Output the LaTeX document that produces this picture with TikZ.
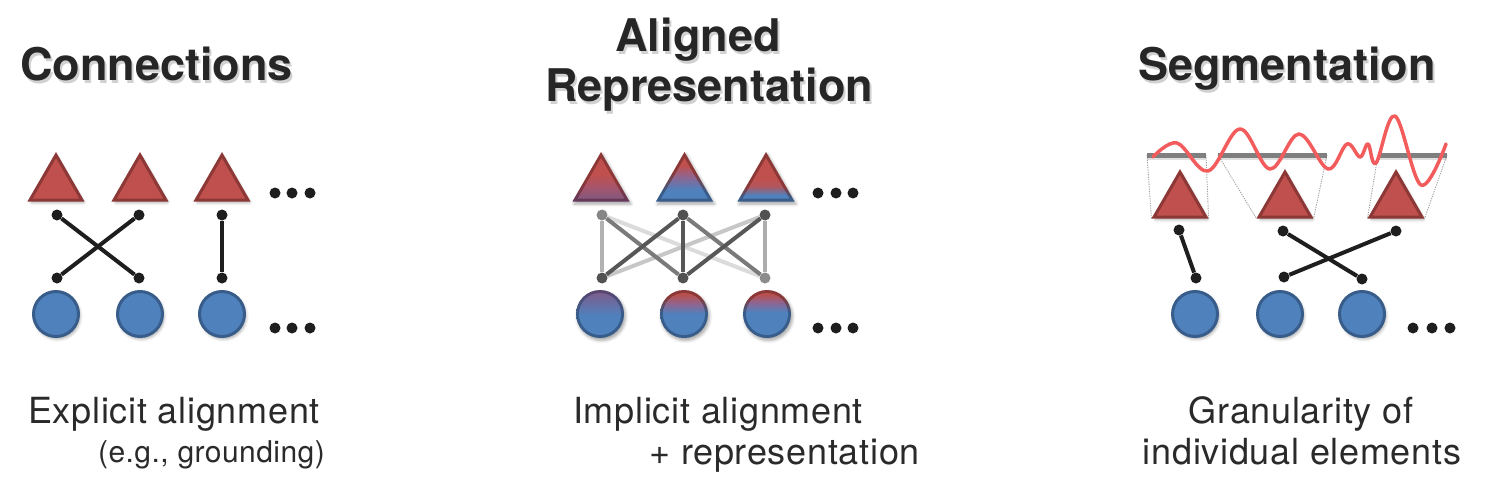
\documentclass[tikz,border=0pt]{standalone}
\usepackage{fontspec}
\setmainfont{TeX Gyre Heros}
\newfontfamily\lblfont[LetterSpace=2]{TeX Gyre Heros}
\newfontfamily\lblsfont[LetterSpace=1.5]{TeX Gyre Heros}
\usetikzlibrary{shapes.geometric,shadows.blur}

\definecolor{tred}{HTML}{C0504D}
\definecolor{tredd}{HTML}{8C3836}
\definecolor{cblue}{HTML}{4F81BD}
\definecolor{cblued}{HTML}{385D8A}
\definecolor{wavec}{HTML}{F25C5C}
\definecolor{ink}{HTML}{1E1E1E}
\definecolor{txt}{HTML}{2A2A2A}
\definecolor{ttl}{HTML}{262626}
\definecolor{barc}{HTML}{7F7F7F}
\definecolor{purpA}{HTML}{85597D}
\definecolor{mixA}{HTML}{A8546A}
\definecolor{purpAd}{HTML}{63385C}
\definecolor{mixB}{HTML}{8F6590}
\definecolor{mixBd}{HTML}{6A4A72}
\definecolor{mixC}{HTML}{B0565E}
\definecolor{purpC}{HTML}{7B5E8E}
\definecolor{purpCd}{HTML}{5A4470}
\definecolor{redC}{HTML}{B8504F}

% shadings: path spans 25bp (bottom) .. 75bp (top)
\pgfdeclareverticalshading{triAfill}{100bp}{color(0bp)=(purpA);color(25bp)=(purpA);color(40bp)=(mixA);color(55bp)=(tred);color(100bp)=(tred)}
\pgfdeclareverticalshading{triAbord}{100bp}{color(0bp)=(purpAd);color(25bp)=(purpAd);color(45bp)=(tredd);color(100bp)=(tredd)}
\pgfdeclareverticalshading{triBfill}{100bp}{color(0bp)=(cblue);color(36bp)=(cblue);color(52bp)=(mixB);color(66bp)=(tred);color(100bp)=(tred)}
\pgfdeclareverticalshading{triBbord}{100bp}{color(0bp)=(cblued);color(34bp)=(cblued);color(55bp)=(tredd);color(100bp)=(tredd)}
\pgfdeclareverticalshading{triCfill}{100bp}{color(0bp)=(cblue);color(29bp)=(cblue);color(40bp)=(mixC);color(50bp)=(tred);color(100bp)=(tred)}
\pgfdeclareverticalshading{triCbord}{100bp}{color(0bp)=(cblued);color(29bp)=(cblued);color(40bp)=(tredd);color(100bp)=(tredd)}
\pgfdeclareverticalshading{cirAfill}{100bp}{color(0bp)=(cblue);color(48bp)=(cblue);color(75bp)=(purpC);color(100bp)=(purpC)}
\pgfdeclareverticalshading{cirAbord}{100bp}{color(0bp)=(cblued);color(50bp)=(cblued);color(75bp)=(purpCd);color(100bp)=(purpCd)}
\pgfdeclareverticalshading{cirBfill}{100bp}{color(0bp)=(cblue);color(50bp)=(cblue);color(62bp)=(mixB);color(73bp)=(redC);color(100bp)=(redC)}
\pgfdeclareverticalshading{cirBbord}{100bp}{color(0bp)=(cblued);color(52bp)=(cblued);color(68bp)=(tredd);color(100bp)=(tredd)}
\pgfdeclareverticalshading{cirCfill}{100bp}{color(0bp)=(cblue);color(52bp)=(cblue);color(64bp)=(mixB);color(73bp)=(redC);color(100bp)=(redC)}

\begin{document}
\begin{tikzpicture}[x=1pt,y=-1pt,
  shad/.style={blur shadow={shadow xshift=1.5pt,shadow yshift=-2.5pt,shadow opacity=35,shadow blur radius=3pt}},
  tri/.style={regular polygon,regular polygon sides=3,minimum size=60pt,inner sep=0pt,
    draw=tredd,line width=3pt,fill=tred,shad},
  triout/.style={regular polygon,regular polygon sides=3,minimum size=66pt,inner sep=0pt,shad},
  triin/.style={regular polygon,regular polygon sides=3,minimum size=54pt,inner sep=0pt},
  cir/.style={circle,minimum size=45pt,inner sep=0pt,draw=cblued,line width=3pt,fill=cblue,shad},
  cirout/.style={circle,minimum size=48pt,inner sep=0pt,shad},
  cirin/.style={circle,minimum size=42pt,inner sep=0pt},
  dot/.style={circle,fill=ink,minimum size=11pt,inner sep=0pt},
  gdot/.style={circle,minimum size=11pt,inner sep=0pt},
  edot/.style={circle,fill=ink,minimum size=11pt,inner sep=0pt},
  edge/.style={draw=ink,line width=4pt},
  gedge/.style={line width=4pt},
  guide/.style={draw=gray!75,line width=0.9pt,dash pattern=on 1.2pt off 1.2pt},
  bar/.style={draw=barc,line width=5pt},
  ttlstyle/.style={inner sep=0pt,text=ttl,font=\fontsize{45}{54}\selectfont\bfseries},
  ttlshadow/.style={inner sep=0pt,text=black,opacity=0.18,font=\fontsize{45}{54}\selectfont\bfseries},
  lbl/.style={inner sep=0pt,text=txt,font=\lblfont\fontsize{36}{42}\selectfont},
  lblsmall/.style={inner sep=0pt,text=txt,font=\lblsfont\fontsize{30}{35}\selectfont}
]
\useasboundingbox (0,0) rectangle (1509,487);

% ---------------- Panel 1: Connections ----------------
\node[ttlshadow,anchor=base west] (s1) at (22,83) {Connections};
\node[ttlstyle,anchor=base west] (h1) at (20,80) {Connections};

\node[tri] (a1) at (56,185) {};
\node[tri] (a2) at (140,185) {};
\node[tri] (a3) at (222,185) {};
\node[edot] (ad1) at (275,193) {};
\node[edot] (ad2) at (292,193) {};
\node[edot] (ad3) at (310,193) {};

\node[dot] (at1) at (57,215) {};
\node[dot] (at2) at (139,215) {};
\node[dot] (at3) at (222,215) {};
\node[dot] (ab1) at (57,278) {};
\node[dot] (ab2) at (139,278) {};
\node[dot] (ab3) at (222,278) {};
\draw[edge] (at1) -- (ab2);
\draw[edge] (at2) -- (ab1);
\draw[edge] (at3) -- (ab3);

\node[cir] (ac1) at (56,314) {};
\node[cir] (ac2) at (140,314) {};
\node[cir] (ac3) at (222,314) {};
\node[edot] (ae1) at (275,328) {};
\node[edot] (ae2) at (292,328) {};
\node[edot] (ae3) at (310,328) {};

\node[lbl,anchor=base west] (l1) at (28,423) {Explicit alignment};
\node[lblsmall,anchor=base east] (l1b) at (325,462) {(e.g., grounding)};

% ---------------- Panel 2: Aligned Representation ----------------
\node[ttlshadow,anchor=base] (s2a) at (700,55) {Aligned};
\node[ttlstyle,anchor=base] (h2a) at (698,52) {Aligned};
\node[ttlshadow,anchor=base] (s2b) at (711,104) {Representation};
\node[ttlstyle,anchor=base] (h2b) at (709,101) {Representation};

\node[triout,shading=triAbord] (b1o) at (601,185) {};
\node[triin,shading=triAfill] (b1) at (601,185) {};
\node[triout,shading=triBbord] (b2o) at (684.5,185) {};
\node[triin,shading=triBfill] (b2) at (684.5,185) {};
\node[triout,shading=triCbord] (b3o) at (766,185) {};
\node[triin,shading=triCfill] (b3) at (766,185) {};
\node[edot] (bd1) at (818,193) {};
\node[edot] (bd2) at (836,193) {};
\node[edot] (bd3) at (853,193) {};

\node[gdot,fill=gray!95!white] (bt1) at (602,215) {};
\node[gdot,fill=black!68] (bt2) at (683,215) {};
\node[gdot,fill=black!68] (bt3) at (765,215) {};
\node[gdot,fill=black!68] (bb1) at (602,278) {};
\node[gdot,fill=black!68] (bb2) at (683,278) {};
\node[gdot,fill=black!45] (bb3) at (765,278) {};
\draw[gedge,draw=black!14] (bt1) -- (bb3);
\draw[gedge,draw=black!22] (bt3) -- (bb1);
\draw[gedge,draw=black!30] (bt1) -- (bb1);
\draw[gedge,draw=black!32] (bt3) -- (bb3);
\draw[gedge,draw=black!52] (bt1) -- (bb2);
\draw[gedge,draw=black!52] (bt2) -- (bb3);
\draw[gedge,draw=black!66] (bt2) -- (bb1);
\draw[gedge,draw=black!66] (bt2) -- (bb2);
\draw[gedge,draw=black!66] (bt3) -- (bb2);

\node[cirout,shading=cirAbord] (bc1o) at (600,314) {};
\node[cirin,shading=cirAfill] (bc1) at (600,314) {};
\node[cirout,shading=cirBbord] (bc2o) at (684,314) {};
\node[cirin,shading=cirBfill] (bc2) at (684,314) {};
\node[cirout,shading=cirBbord] (bc3o) at (767,314) {};
\node[cirin,shading=cirCfill] (bc3) at (767,314) {};
\node[edot] (be1) at (818,328) {};
\node[edot] (be2) at (836,328) {};
\node[edot] (be3) at (853,328) {};

\node[lbl,anchor=base west] (l2) at (573,423) {Implicit alignment};
\node[lbl,anchor=base east] (l2b) at (920,464) {+ representation};

% ---------------- Panel 3: Segmentation ----------------
\node[ttlshadow,anchor=base west] (s3) at (1140,83) {Segmentation};
\node[ttlstyle,anchor=base west] (h3) at (1138,80) {Segmentation};

\coordinate (g1l) at (1147,155);
\coordinate (g1r) at (1206,155);
\coordinate (g2l) at (1218,155);
\coordinate (g2r) at (1327,155);
\coordinate (g3l) at (1378,155);
\coordinate (g3r) at (1447,155);

\node[tri] (c1) at (1180,202) {};
\node[tri] (c2) at (1285,202) {};
\node[tri] (c3) at (1396,202) {};

\draw[guide] (g1l) -- (c1.corner 2);
\draw[guide] (g1r) -- (c1.corner 3);
\draw[guide] (g2l) -- (c2.corner 2);
\draw[guide] (g2r) -- (c2.corner 3);
\draw[guide] (g3l) -- (c3.corner 2);
\draw[guide] (g3r) -- (c3.corner 3);

\foreach \a/\b in {g1l/g1r,g2l/g2r,g3l/g3r}{
  \draw[line width=5pt,draw=black,opacity=0.12] ([yshift=-2pt]\a) -- ([yshift=-2pt]\b);
  \draw[bar] (\a) -- (\b);
}

\draw[draw=wavec,line width=3.5pt,line cap=round,line join=round]
  plot[smooth,tension=0.6] coordinates {(1153,157) (1177,143) (1208,171) (1240,129) (1270,169)
  (1299,134) (1328,169) (1347,144) (1360,157) (1368,144) (1376,163) (1395,116) (1421,185) (1446,144)};

\node[dot] (ct1) at (1179,230) {};
\node[dot] (ct2) at (1283,231) {};
\node[dot] (ct3) at (1396,231) {};
\node[dot] (cb1) at (1196,278) {};
\node[dot] (cb2) at (1284,277) {};
\node[dot] (cb3) at (1362,279) {};
\draw[edge] (ct1) -- (cb1);
\draw[edge] (ct2) -- (cb3);
\draw[edge] (ct3) -- (cb2);

\node[cir] (cc1) at (1195,314) {};
\node[cir] (cc2) at (1280,314) {};
\node[cir] (cc3) at (1362,314) {};
\node[edot] (ce1) at (1413,328) {};
\node[edot] (ce2) at (1432,328) {};
\node[edot] (ce3) at (1450,328) {};

\node[lbl,anchor=base] (l3) at (1301,423) {Granularity of};
\node[lbl,anchor=base] (l3b) at (1302,464) {individual elements};
\end{tikzpicture}
\end{document}
